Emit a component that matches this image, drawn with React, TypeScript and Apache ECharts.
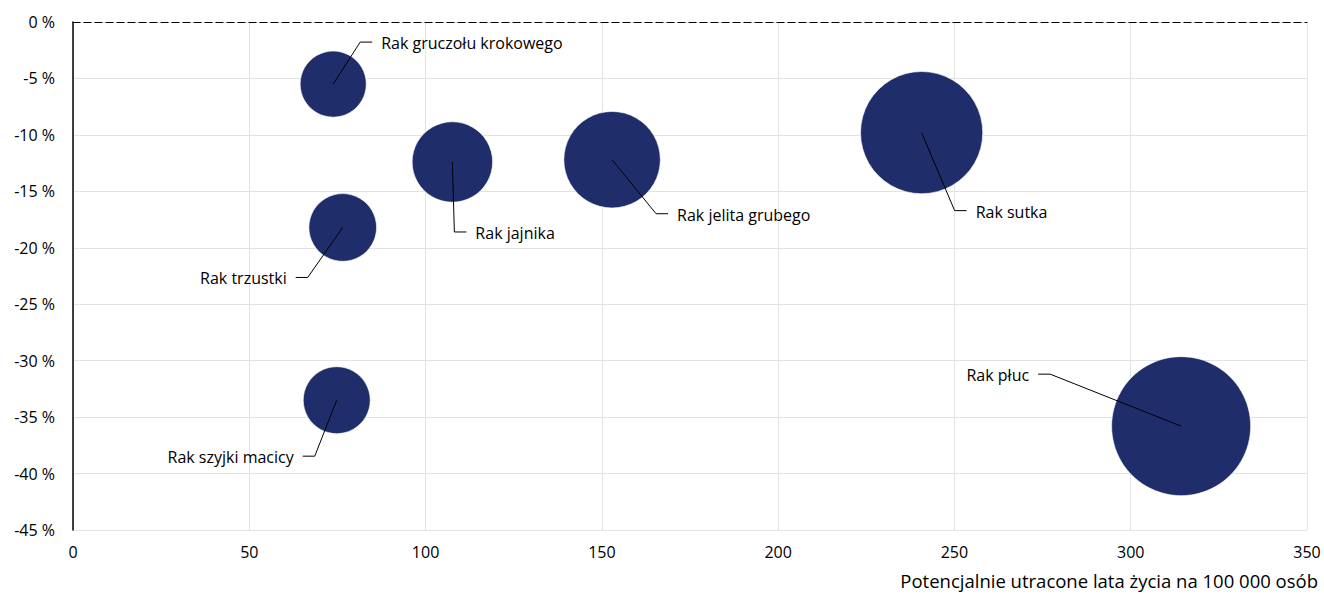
import React, { useEffect, useRef } from "react";
import * as echarts from "echarts";

// Cancer types, potential years of life lost per 100 000 people,
// percentage change and relative bubble size
const cancers = [
  "Rak gruczołu krokowego",
  "Rak trzustki",
  "Rak szyjki macicy",
  "Rak jajnika",
  "Rak jelita grubego",
  "Rak sutka",
  "Rak płuc",
];
const lostYears = [73.8, 76.5, 74.8, 107.6, 152.9, 240.7, 314.3];
const changePct = [-5.5, -18.2, -33.5, -12.4, -12.2, -9.8, -35.8];
const bubbleSize = [22.6, 23.7, 23.2, 33.5, 48.2, 77.3, 100];

const xTicks = { min: 0, max: 350, interval: 50 };
const yTicks = { min: -45, max: 0, interval: 5 };

// Callout layout: elbow offset from the bubble centre (px) and side of the text
const callouts: [number, number, "left" | "right"][] = [
  [27, -42, "right"],
  [-35, 50, "left"],
  [-22, 56, "left"],
  [2, 70, "right"],
  [44, 54, "right"],
  [33, 78, "right"],
  [-131, -52, "left"],
];

const FONT = "'Open Sans', 'Noto Sans', sans-serif";
const BUBBLE = "#1F2E6B";
const MAX_DIAMETER = 139;

export default function App() {
  const ref = useRef<HTMLDivElement>(null);

  useEffect(() => {
    if (!ref.current) return;
    const chart = echarts.init(ref.current, undefined, { renderer: "svg" });
    const maxSize = Math.max(...bubbleSize);
    const points = cancers.map((name, i) => ({
      name,
      value: [lostYears[i], changePct[i], bubbleSize[i], i],
    }));

    chart.setOption({
      animation: false,
      backgroundColor: "#ffffff",
      textStyle: { fontFamily: FONT },
      grid: { left: 73, right: 17, top: 22, bottom: 65 },
      xAxis: [
        {
          type: "value",
          position: "bottom",
          ...xTicks,
          axisLine: { show: false },
          axisTick: { show: false },
          axisLabel: { color: "#000", fontSize: 16, margin: 14, fontFamily: FONT },
          splitLine: { show: true, lineStyle: { color: "#e3e3e3", width: 1 } },
        },
        {
          // zero line drawn along the top edge
          type: "value",
          position: "top",
          ...xTicks,
          axisLine: { show: true, lineStyle: { color: "#000", width: 1.2, type: [7, 4] } },
          axisTick: { show: false },
          axisLabel: { show: false },
          splitLine: { show: false },
        },
      ],
      yAxis: {
        type: "value",
        ...yTicks,
        axisLine: { show: true, onZero: false, lineStyle: { color: "#000", width: 1.5 } },
        axisTick: { show: false },
        axisLabel: {
          color: "#000",
          fontSize: 16,
          margin: 18,
          fontFamily: FONT,
          formatter: (v: number) => `${v} %`,
        },
        splitLine: { show: true, lineStyle: { color: "#e3e3e3", width: 1 } },
      },
      graphic: [
        {
          type: "text",
          right: 6,
          top: 571,
          style: {
            text: "Potencjalnie utracone lata życia na 100 000 osób",
            font: `18.5px ${FONT}`,
            fill: "#000",
          },
        },
      ],
      series: [
        {
          type: "scatter",
          xAxisIndex: 0,
          data: points,
          symbol: "circle",
          symbolSize: (val: number[]) => MAX_DIAMETER * Math.sqrt(val[2] / maxSize),
          itemStyle: { color: BUBBLE, opacity: 1, borderColor: "#ffffff", borderWidth: 0.6 },
          z: 2,
        },
        {
          type: "custom",
          xAxisIndex: 0,
          data: points,
          z: 5,
          silent: true,
          renderItem: (params: any, api: any) => {
            const c = api.coord([api.value(0), api.value(1)]);
            const idx = api.value(3);
            const [dx, dy, side] = callouts[idx];
            const ex = c[0] + dx;
            const ey = c[1] + dy;
            const dir = side === "right" ? 1 : -1;
            const hx = ex + dir * 12;
            return {
              type: "group",
              children: [
                {
                  type: "polyline",
                  shape: { points: [[c[0], c[1]], [ex, ey], [hx, ey]] },
                  style: { stroke: "#000", lineWidth: 1, fill: null },
                },
                {
                  type: "text",
                  x: hx + dir * 9,
                  y: ey + 1,
                  style: {
                    text: cancers[idx],
                    font: `16px ${FONT}`,
                    fill: "#000",
                    align: side === "right" ? "left" : "right",
                    verticalAlign: "middle",
                  },
                },
              ],
            };
          },
        },
      ],
    });

    return () => chart.dispose();
  }, []);

  return (
    <div
      ref={ref}
      style={{ position: "fixed", left: 0, top: 0, width: 1324, height: 595 }}
    />
  );
}
